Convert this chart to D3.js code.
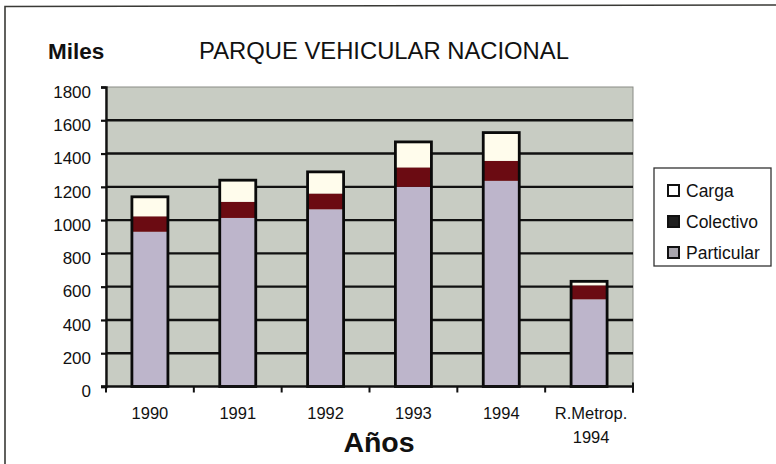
<!DOCTYPE html>
<html><head><meta charset="utf-8">
<script src="https://cdn.jsdelivr.net/npm/d3@7"></script>
<style>body{margin:0;background:#fff}svg{display:block;font-family:"Liberation Sans",Arial,sans-serif}</style>
</head><body>
<svg id="c" width="776" height="464"></svg>
<script>
const categories = ["1990", "1991", "1992", "1993", "1994", "R.Metrop.\n1994"];
const particular = [930, 1013, 1065, 1200, 1236, 524];
const colectivo = [93, 97, 95, 117, 120, 84];
const carga = [117, 130, 130, 153, 170, 24];
const yTicks = [0, 200, 400, 600, 800, 1000, 1200, 1400, 1600, 1800];
const seriesNames = ["Particular", "Colectivo", "Carga"];
const legendNames = ["Carga", "Colectivo", "Particular"];

const colors = {Particular: "#bdb5cb", Colectivo: "#6b0b12", Carga: "#fffcec"};
const legendColors = {Carga: "#ffffff", Colectivo: "#1e1e1e", Particular: "#a8a5ad"};

const svg = d3.select("#c");
const L = 106, R = 633, T = 87, B = 386.5;

// frame
svg.append("path").attr("d", "M5,464 L5,6.5 L776,5").attr("fill", "none").attr("stroke", "#3a3a36").attr("stroke-width", 1.6);

const x = d3.scaleBand().domain(categories).range([L, R]).paddingInner(0.59).paddingOuter(0.295);
const y = d3.scaleLinear().domain([0, 1800]).range([B, T]);

// plot background
svg.append("rect").attr("x", L).attr("y", T).attr("width", R - L).attr("height", B - T)
  .attr("fill", "#c8ccc3").attr("stroke", "#8a8c86").attr("stroke-width", 1);

// gridlines
svg.append("g").selectAll("line").data(yTicks.filter(d => d > 0 && d < 1800)).join("line")
  .attr("x1", L).attr("x2", R).attr("y1", d => y(d)).attr("y2", d => y(d))
  .attr("stroke", "#111").attr("stroke-width", 2.4);

// stacked bars
const table = categories.map((c, i) => ({cat: c, Particular: particular[i], Colectivo: colectivo[i], Carga: carga[i]}));
const stack = d3.stack().keys(seriesNames)(table);
const bw = x.bandwidth();
svg.append("g").selectAll("g").data(stack).join("g").attr("fill", d => colors[d.key])
  .selectAll("rect").data(d => d).join("rect")
  .attr("x", d => x(d.data.cat)).attr("width", bw)
  .attr("y", d => y(d[1])).attr("height", d => y(d[0]) - y(d[1]));
// bar outlines
svg.append("g").selectAll("rect").data(stack[stack.length - 1]).join("rect")
  .attr("x", d => x(d.data.cat)).attr("width", bw)
  .attr("y", d => y(d[1])).attr("height", d => y(0) - y(d[1]))
  .attr("fill", "none").attr("stroke", "#0a0a0a").attr("stroke-width", 2.8);

// y axis
const yAxis = d3.axisLeft(y).tickValues(yTicks).tickSize(5).tickPadding(10).tickFormat(d3.format("d"));
const gy = svg.append("g").attr("transform", `translate(${L},0)`).call(yAxis);
gy.select(".domain").attr("stroke", "#111").attr("stroke-width", 2.4);
gy.selectAll(".tick line").attr("stroke", "#111").attr("stroke-width", 2.2);
gy.selectAll(".tick text").attr("font-size", 17).attr("fill", "#111").attr("dy", "0.75em").attr("y", -2.5)
  .attr("font-family", "Liberation Sans, Arial, sans-serif");

// x axis line and ticks at category boundaries
svg.append("line").attr("x1", L - 5).attr("x2", R + 1).attr("y1", B).attr("y2", B).attr("stroke", "#111").attr("stroke-width", 2.4);
const step = x.step();
const bounds = d3.range(categories.length + 1).map(i => L + i * step);
svg.append("g").selectAll("line").data(bounds).join("line")
  .attr("x1", d => d).attr("x2", d => d).attr("y1", B).attr("y2", B + 6)
  .attr("stroke", "#111").attr("stroke-width", 2);
svg.append("line").attr("x1", R).attr("x2", R).attr("y1", B - 4).attr("y2", B + 6).attr("stroke", "#111").attr("stroke-width", 2);

// x labels
const xl = svg.append("g").selectAll("text").data(categories).join("text")
  .attr("x", d => x(d) + bw / 2 + (d.includes("\n") ? 2 : 0)).attr("y", 419)
  .attr("text-anchor", "middle").attr("font-size", 16.5).attr("fill", "#111");
xl.selectAll("tspan").data(d => d.split("\n")).join("tspan")
  .attr("x", function() { return this.parentNode.getAttribute("x"); })
  .attr("dy", (d, i) => i === 0 ? 0 : 24).text(d => d);

// titles
svg.append("text").attr("x", 48).attr("y", 59).attr("font-size", 22.5).attr("font-weight", "bold").attr("fill", "#111").text("Miles");
svg.append("text").attr("x", 384).attr("y", 59).attr("text-anchor", "middle").attr("font-size", 23.8).attr("fill", "#111").text("PARQUE VEHICULAR NACIONAL");
svg.append("text").attr("x", 379).attr("y", 452).attr("text-anchor", "middle").attr("font-size", 28.5).attr("font-weight", "bold").attr("fill", "#111").text("Años");

// legend
svg.append("rect").attr("x", 654).attr("y", 168).attr("width", 117).attr("height", 98)
  .attr("fill", "#fff").attr("stroke", "#333").attr("stroke-width", 1.3);
const lg = svg.append("g").selectAll("g").data(legendNames).join("g")
  .attr("transform", (d, i) => `translate(668,${185 + i * 31})`);
lg.append("rect").attr("width", 11).attr("height", 11).attr("fill", d => legendColors[d])
  .attr("stroke", "#111").attr("stroke-width", 2);
lg.append("text").attr("x", 18).attr("y", 11.5).attr("font-size", 17.5).attr("fill", "#111").text(d => d);
</script>
</body></html>
